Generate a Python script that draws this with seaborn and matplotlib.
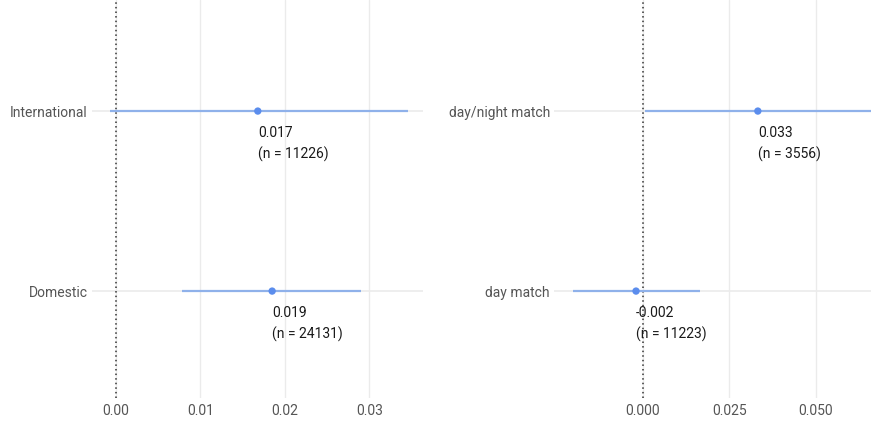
import matplotlib
matplotlib.use("Agg")
import matplotlib.pyplot as plt
import seaborn as sns
import pandas as pd

# Left panel: match type
left_cats = ["International", "Domestic"]
left_est = [0.017, 0.019]
left_lo = [-0.0007, 0.0078]
left_hi = [0.0346, 0.0290]
left_pt = [0.0168, 0.0185]
left_n = [11226, 24131]

# Right panel: day/night
right_cats = ["day/night match", "day match"]
right_est = [0.033, -0.002]
right_lo = [0.0006, -0.0202]
right_hi = [0.070, 0.0165]
right_pt = [0.0332, -0.0020]
right_n = [3556, 11223]

left_ticks = [0.00, 0.01, 0.02, 0.03]
left_ticklabels = ["0.00", "0.01", "0.02", "0.03"]
right_ticks = [0.000, 0.025, 0.050]
right_ticklabels = ["0.000", "0.025", "0.050"]

sns.set_theme(style="white")
plt.rcParams["font.family"] = ["Roboto", "DejaVu Sans"]

fig = plt.figure(figsize=(8.75, 4.21), dpi=100)
axL = fig.add_axes([92/875, 1-398/421, (423-92)/875, 398/421])
axR = fig.add_axes([554/875, 1-398/421, (871-554)/875, 398/421])

line_col = "#8fb1ea"
pt_col = "#5b8ded"
grid_col = "#ebebeb"

def panel(ax, cats, est, lo, hi, pt, ns, xlim, ticks, ticklabels):
    df = pd.DataFrame({"cat": cats, "pos": list(range(len(cats))),
                       "est": est, "lo": lo, "hi": hi, "pt": pt, "n": ns})
    ax.set_xlim(*xlim)
    ax.set_ylim(1.594, -0.617)
    for t in ticks:
        ax.axvline(t, color=grid_col, lw=1, zorder=0)
    for p in df["pos"]:
        ax.axhline(p, color=grid_col, lw=1.2, zorder=0)
    ax.axvline(0, color="#333333", lw=1.1, ls=(0, (1, 2)), zorder=1)
    ax.hlines(df["pos"], df["lo"], df["hi"], color=line_col, lw=1.6, zorder=2)
    sns.scatterplot(data=df, x="pt", y="pos", ax=ax, color=pt_col, s=28,
                    edgecolor="none", zorder=3, legend=False)
    for _, r in df.iterrows():
        ax.annotate(f"{r['est']:.3f}\n(n = {int(r['n'])})", (r["pt"], r["pos"]),
                    xytext=(0, -10.5), textcoords="offset points",
                    ha="left", va="top", fontsize=10, color="#1a1a1a",
                    linespacing=1.55)
    ax.set_yticks(df["pos"])
    ax.set_yticklabels(cats)
    ax.set_xticks(ticks)
    ax.set_xticklabels(ticklabels)
    ax.tick_params(axis="both", length=0, labelsize=10, labelcolor="#555555")
    ax.tick_params(axis="y", pad=3)
    ax.tick_params(axis="x", pad=4)
    ax.set_xlabel("")
    ax.set_ylabel("")
    for s in ax.spines.values():
        s.set_visible(False)
    ax.set_facecolor("white")

panel(axL, left_cats, left_est, left_lo, left_hi, left_pt, left_n,
      (-0.00284, 0.03637), left_ticks, left_ticklabels)
panel(axR, right_cats, right_est, right_lo, right_hi, right_pt, right_n,
      (-0.0257, 0.0659), right_ticks, right_ticklabels)

fig.savefig("out.png", dpi=100, facecolor="white")
